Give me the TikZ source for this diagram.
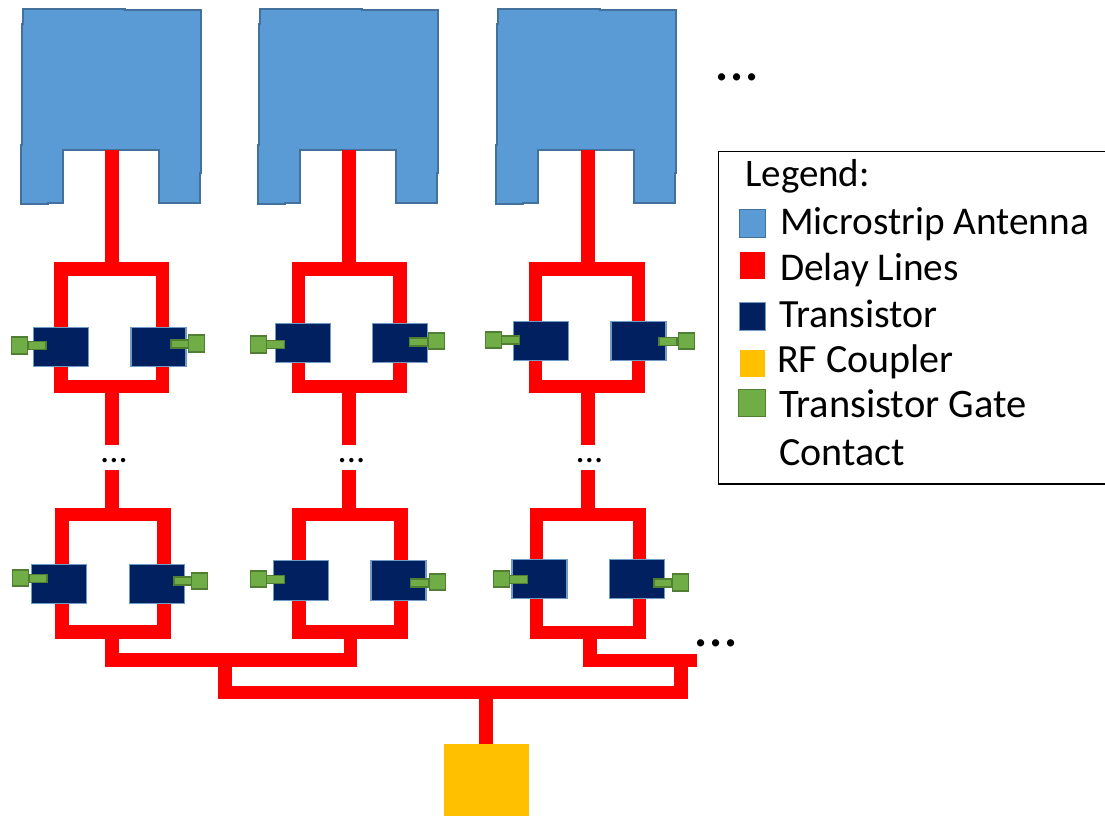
\documentclass[tikz,border=0pt]{standalone}
\usepackage{fontspec}
\setmainfont{Carlito}
\definecolor{antblue}{HTML}{5B9BD5}
\definecolor{antedge}{HTML}{41719C}
\definecolor{dlred}{HTML}{FF0000}
\definecolor{trnavy}{HTML}{002060}
\definecolor{tredge}{HTML}{6F9BC4}
\definecolor{rfgold}{HTML}{FFC000}
\definecolor{gtgreen}{HTML}{70AD47}
\definecolor{gtedge}{HTML}{507E32}
\tikzset{
  delay/.style={draw=dlred,line width=13.4pt,miter limit=10},
  antenna/.style={fill=antblue,draw=antedge,line width=1.2pt},
  trans/.style={rectangle,fill=trnavy,draw=tredge,line width=1.2pt,minimum width=55pt,minimum height=39.5pt,inner sep=0pt,outer sep=0pt},
  gate/.style={rectangle,fill=gtgreen,draw=gtedge,line width=1.6pt,minimum width=16pt,minimum height=16.5pt,inner sep=0pt,outer sep=0pt},
  stub/.style={rectangle,fill=gtgreen,draw=gtedge,line width=1.5pt,minimum width=18pt,minimum height=8pt,inner sep=0pt,outer sep=0pt},
  legtext/.style={anchor=base west,inner sep=0pt,font=\fontsize{#1}{#1}\selectfont},
  legkey/.style={rectangle,inner sep=0pt,outer sep=0pt,line width=1.2pt},
  bigdots/.style={anchor=base,inner sep=0pt,font=\fontsize{60}{60}\selectfont},
  smalldots/.style={anchor=base,inner sep=0pt,font=\fontsize{36.5}{36.5}\selectfont},
}
% antenna outline, dx = horizontal shift, #2 name prefix
\newcommand{\antennashape}[2]{%
  \begin{scope}[xshift=#1pt]
    \draw[antenna] (23,9) -- (125,9) -- (125,10) -- (201,10) -- (201,173) -- (200,173) -- (200,203)
      -- (159,203) -- (159,150) -- (63,150) -- (63,203) -- (48,203) -- (48,204) -- (21,204)
      -- (21,145) -- (22,145) -- (22,24) -- (23,24) -- cycle;
    \coordinate (#2) at (111,150);
  \end{scope}}
% one delay loop: id, feed x, left x, right x, top y, bottom y
\newcommand{\delayloop}[6]{%
  \coordinate (#1tl) at (#3,#5);
  \coordinate (#1tr) at (#4,#5);
  \coordinate (#1br) at (#4,#6);
  \coordinate (#1bl) at (#3,#6);
  \coordinate (#1top) at (#2,#5);
  \coordinate (#1bot) at (#2,#6);
  \draw[delay] (#1tl) -- (#1tr) -- (#1br) -- (#1bl) -- cycle;}
% transistor with gate: name, cx, cy, gate cx, gate cy, stub cx, stub cy
\newcommand{\transgate}[7]{%
  \node[trans] (#1) at (#2,#3) {};
  \node[stub] (#1s) at (#6,#7) {};
  \node[gate] (#1g) at (#4,#5) {};}
\begin{document}
\begin{tikzpicture}[x=1pt,y=-1pt]
\useasboundingbox (0,0) rectangle (1105,816);
% antennas
\antennashape{0}{a1}
\antennashape{237}{a2}
\antennashape{475}{a3}
% delay loops
\delayloop{u1}{112}{61}{162.5}{269}{386.5}
\delayloop{u2}{349}{298.5}{400}{269}{386.5}
\delayloop{u3}{588}{535.5}{638.5}{269}{386.5}
\delayloop{l1}{112}{62}{164}{514.5}{632}
\delayloop{l2}{349}{299}{401}{514.5}{632}
\delayloop{l3}{588}{536.5}{639.5}{514.5}{632.5}
% feeds
\coordinate (f1a) at (112,445); \coordinate (f1b) at (112,469.5);
\coordinate (f2a) at (349,445); \coordinate (f2b) at (349,469.5);
\coordinate (f3a) at (588,445); \coordinate (f3b) at (588,469.5);
\draw[delay] (a1 -| u1top) -- (u1top);
\draw[delay] (a2 -| u2top) -- (u2top);
\draw[delay] (a3 -| u3top) -- (u3top);
\draw[delay] (u1bot) -- (f1a);
\draw[delay] (u2bot) -- (f2a);
\draw[delay] (u3bot) -- (f3a);
\draw[delay] (f1b) -- (l1top);
\draw[delay] (f2b) -- (l2top);
\draw[delay] (f3b) -- (l3top);
% combining network
\coordinate (c0a) at (112,632);
\coordinate (c0b) at (350.5,632);
\coordinate (c0c) at (590,632.5);
\coordinate (c1) at (112,660);
\coordinate (c2) at (350.5,660);
\coordinate (c3) at (225,660);
\coordinate (c4) at (590,660.5);
\coordinate (c5) at (697,660.5);
\coordinate (c6) at (681,660.5);
\coordinate (c7) at (225,692.3);
\coordinate (c8) at (681,692.3);
\coordinate (c9) at (486,692.3);
\node[rectangle,fill=rfgold,inner sep=0pt,outer sep=0pt,minimum width=85pt,minimum height=73pt] (rf) at (486.5,780.5) {};
\draw[delay] (c0a) -- (c1) -- (c2) -- (c0b);
\draw[delay] (c0c) -- (c4) -- (c5);
\draw[delay] (c3) -- (c7) -- (c8) -- (c6);
\draw[delay] (c9) -- (c9 |- rf.north);
% transistors and gates
\transgate{t1}{61}{347}{19.5}{345.5}{37}{345.5}
\transgate{t2}{158.5}{347}{196.5}{343.5}{180}{344}
\transgate{t3}{303}{343}{258.5}{344.5}{275.5}{344.5}
\transgate{t4}{400}{343}{436.5}{341}{418.5}{342}
\transgate{t5}{541}{341}{493.5}{340}{510.5}{340}
\transgate{t6}{638.5}{341}{686.5}{341}{668}{341.5}
\transgate{t7}{59}{584}{20.5}{578}{38}{578.5}
\transgate{t8}{157}{584}{199.5}{581}{183}{581}
\transgate{t9}{301}{580.5}{258.5}{579}{275.5}{579.5}
\transgate{t10}{398.5}{580.5}{437.5}{582}{419.5}{583}
\transgate{t11}{539.5}{579}{501.5}{579}{518.5}{579.5}
\transgate{t12}{637}{579}{680.5}{582.5}{663}{583}
% dots
\node[bigdots] (d1) at (737,81) {...};
\node[bigdots] (d2) at (716,646.5) {...};
\node[smalldots] (d3) at (114,462) {...};
\node[smalldots] (d4) at (351.5,462) {...};
\node[smalldots] (d5) at (589.5,462) {...};
% legend
\draw[black,line width=1.5pt] (1106,151.5) coordinate (lgtr) -- (718.5,151.5) coordinate (lgtl) -- (718.5,484) coordinate (lgbl) -- (1106,484) coordinate (lgbr);
\node[legtext=39] (lg0) at (745,186.5) {Legend:};
\node[legkey,fill=antblue,draw=antedge,minimum width=26pt,minimum height=28pt] (k1) at (752.5,223.5) {};
\node[legtext=39.3] (lg1) at (780,234.5) {Microstrip Antenna};
\node[legkey,fill=dlred,minimum width=25pt,minimum height=27pt] (k2) at (752.5,265.5) {};
\node[legtext=39.3] (lg2) at (780,280.5) {Delay Lines};
\node[legkey,fill=trnavy,draw=tredge,minimum width=26pt,minimum height=28pt] (k3) at (752.5,316.5) {};
\node[legtext=40] (lg3) at (779,327.5) {Transistor};
\node[legkey,fill=rfgold,minimum width=25pt,minimum height=27pt] (k4) at (752.5,363) {};
\node[legtext=40] (lg4) at (777,372.5) {RF Coupler};
\node[legkey,fill=gtgreen,draw=gtedge,minimum width=27pt,minimum height=27pt] (k5) at (752,403) {};
\node[legtext=40.5] (lg5) at (779,417.5) {Transistor Gate};
\node[legtext=40] (lg6) at (779,465.5) {Contact};
\end{tikzpicture}
\end{document}
